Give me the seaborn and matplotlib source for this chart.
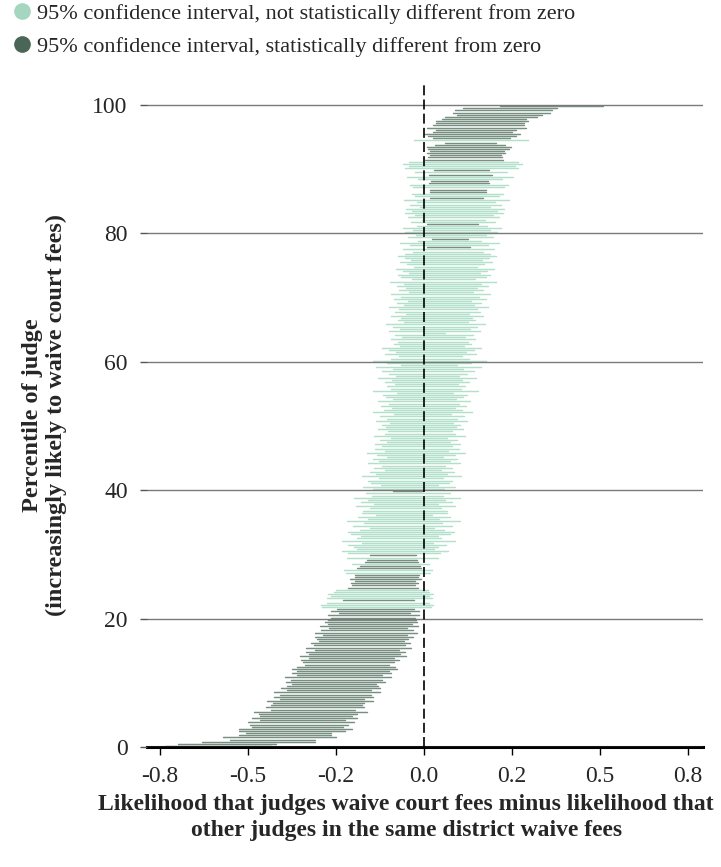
import numpy as np
import pandas as pd
import matplotlib
matplotlib.use("Agg")
import matplotlib.pyplot as plt
import seaborn as sns
from matplotlib.lines import Line2D

# ---- data: judge point estimate and half-width of 95% CI (sorted by estimate) ----
est = [
    -0.585, -0.56, -0.47, -0.43, -0.41, -0.395, -0.385, -0.375, -0.365, -0.36,
    -0.355, -0.35, -0.345, -0.34, -0.335, -0.33, -0.322, -0.316, -0.31, -0.305,
    -0.30, -0.295, -0.29, -0.285, -0.28, -0.275, -0.27, -0.265, -0.26, -0.256,
    -0.252, -0.248, -0.244, -0.24, -0.235, -0.23, -0.226, -0.222, -0.218, -0.214,
    -0.21, -0.206, -0.202, -0.198, -0.194, -0.19, -0.186, -0.183, -0.18, -0.177,
    -0.174, -0.171, -0.168, -0.165, -0.162, -0.159, -0.156, -0.153, -0.15, -0.147,
    -0.145, -0.143, -0.141, -0.139, -0.137, -0.135, -0.133, -0.131, -0.129, -0.127,
    -0.125, -0.123, -0.121, -0.119, -0.117, -0.115, -0.113, -0.111, -0.109, -0.107,
    -0.105, -0.103, -0.101, -0.099, -0.097, -0.095, -0.093, -0.091, -0.089, -0.087,
    -0.085, -0.083, -0.081, -0.079, -0.077, -0.075, -0.073, -0.071, -0.069, -0.067,
    -0.065, -0.063, -0.062, -0.061, -0.06, -0.059, -0.058, -0.057, -0.056, -0.055,
    -0.054, -0.053, -0.052, -0.051, -0.05, -0.049, -0.048, -0.047, -0.046, -0.0455,
    -0.044, -0.043, -0.041, -0.040, -0.039, -0.037, -0.036, -0.035, -0.034, -0.032,
    -0.031, -0.030, -0.028, -0.027, -0.026, -0.025, -0.023, -0.022, -0.021, -0.020,
    -0.019, -0.018, -0.016, -0.015, -0.014, -0.013, -0.012, -0.011, -0.010, -0.009,
    -0.008, -0.007, -0.007, -0.006, -0.005, -0.004, -0.004, -0.003, -0.002, -0.001,
    0.000, 0.000, 0.001, 0.002, 0.003, 0.003, 0.004, 0.005, 0.006, 0.007,
    0.008, 0.008, 0.009, 0.010, 0.011, 0.012, 0.012, 0.013, 0.014, 0.015,
    0.016, 0.017, 0.018, 0.019, 0.020, 0.021, 0.022, 0.023, 0.024, 0.025,
    0.026, 0.027, 0.028, 0.029, 0.030, 0.031, 0.032, 0.033, 0.034, 0.035,
    0.036, 0.037, 0.038, 0.039, 0.040, 0.041, 0.042, 0.043, 0.044, 0.045,
    0.046, 0.047, 0.048, 0.049, 0.050, 0.052, 0.053, 0.054, 0.055, 0.056,
    0.057, 0.058, 0.059, 0.060, 0.061, 0.062, 0.063, 0.064, 0.065, 0.066,
    0.067, 0.068, 0.069, 0.070, 0.071, 0.072, 0.073, 0.074, 0.075, 0.076,
    0.077, 0.078, 0.079, 0.080, 0.081, 0.082, 0.083, 0.084, 0.085, 0.086,
    0.087, 0.088, 0.089, 0.090, 0.091, 0.092, 0.093, 0.094, 0.095, 0.096,
    0.097, 0.098, 0.099, 0.100, 0.101, 0.102, 0.103, 0.104, 0.105, 0.106,
    0.107, 0.108, 0.110, 0.112, 0.114, 0.116, 0.118, 0.120, 0.123, 0.126,
    0.128, 0.13, 0.132, 0.134, 0.135, 0.136, 0.137, 0.138, 0.148, 0.15,
    0.155, 0.16, 0.165, 0.17, 0.19, 0.215, 0.22, 0.226, 0.244, 0.363,
]
half = [
    0.15, 0.14, 0.16, 0.12, 0.16, 0.13, 0.12, 0.15, 0.16, 0.13,
    0.14, 0.15, 0.12, 0.15, 0.13, 0.14, 0.16, 0.12, 0.14, 0.13,
    0.13, 0.15, 0.12, 0.14, 0.13, 0.15, 0.12, 0.14, 0.13, 0.12,
    0.14, 0.13, 0.15, 0.12, 0.14, 0.13, 0.15, 0.14, 0.12, 0.13,
    0.14, 0.12, 0.15, 0.13, 0.14, 0.12, 0.15, 0.13, 0.14, 0.12,
    0.13, 0.14, 0.12, 0.145, 0.13, 0.11, 0.14, 0.12, 0.13, 0.125,
    0.12, 0.13, 0.10, 0.125, 0.11, 0.155, 0.16, 0.145, 0.10, 0.15,
    0.14, 0.15, 0.135, 0.13, 0.10, 0.09, 0.095, 0.085, 0.10, 0.09,
    0.09, 0.12, 0.125, 0.09, 0.085, 0.11, 0.075, 0.07, 0.13, 0.065,
    0.13, 0.15, 0.11, 0.12, 0.14, 0.10, 0.16, 0.12, 0.11, 0.14,
    0.15, 0.12, 0.09, 0.14, 0.11, 0.16, 0.10, 0.13, 0.08, 0.12,
    0.12, 0.10, 0.14, 0.09, 0.13, 0.11, 0.15, 0.10, 0.12, 0.042,
    0.10, 0.13, 0.08, 0.11, 0.12, 0.09, 0.14, 0.10, 0.12, 0.08,
    0.11, 0.09, 0.13, 0.10, 0.12, 0.08, 0.11, 0.14, 0.09, 0.12,
    0.10, 0.12, 0.09, 0.11, 0.08, 0.13, 0.10, 0.09, 0.12, 0.10,
    0.11, 0.09, 0.13, 0.10, 0.12, 0.08, 0.14, 0.11, 0.09, 0.12,
    0.10, 0.13, 0.09, 0.11, 0.12, 0.08, 0.15, 0.10, 0.11, 0.09,
    0.12, 0.10, 0.14, 0.09, 0.11, 0.13, 0.10, 0.15, 0.08, 0.12,
    0.16, 0.11, 0.09, 0.13, 0.10, 0.12, 0.14, 0.09, 0.11, 0.10,
    0.12, 0.09, 0.11, 0.03, 0.13, 0.10, 0.12, 0.14, 0.09, 0.11,
    0.10, 0.13, 0.09, 0.12, 0.11, 0.14, 0.10, 0.12, 0.09, 0.13,
    0.11, 0.14, 0.09, 0.12, 0.10, 0.13, 0.11, 0.15, 0.09, 0.12,
    0.13, 0.10, 0.12, 0.14, 0.09, 0.11, 0.13, 0.10, 0.12, 0.14,
    0.12, 0.10, 0.13, 0.06, 0.11, 0.14, 0.09, 0.052, 0.12, 0.10,
    0.13, 0.11, 0.14, 0.10, 0.072, 0.12, 0.09, 0.13, 0.11, 0.14,
    0.12, 0.14, 0.10, 0.13, 0.11, 0.15, 0.075, 0.12, 0.13, 0.08,
    0.08, 0.13, 0.14, 0.085, 0.08, 0.12, 0.15, 0.09, 0.13, 0.078,
    0.16, 0.15, 0.17, 0.155, 0.11, 0.105, 0.10, 0.11, 0.105, 0.115,
    0.12, 0.10, 0.072, 0.163, 0.11, 0.125, 0.135, 0.112, 0.114, 0.14,
    0.13, 0.125, 0.132, 0.12, 0.13, 0.121, 0.138, 0.138, 0.134, 0.147,
]
x_ticks = [-0.75, -0.5, -0.25, 0.0, 0.25, 0.5, 0.75]
x_tick_labels = ["-0.8", "-0.5", "-0.2", "0.0", "0.2", "0.5", "0.8"]
y_ticks = [0, 20, 40, 60, 80, 100]
legend_labels = [
    "95% confidence interval, not statistically different from zero",
    "95% confidence interval, statistically different from zero",
]
x_label = ("Likelihood that judges waive court fees minus likelihood that\n"
           "other judges in the same district waive fees")
y_label = "Percentile of judge\n(increasingly likely to waive court fees)"

# ---- derived table ----
est_a = np.array(est)
half_a = np.array(half)
n = len(est_a)
pct = (np.arange(n) + 0.5) / n * 100
lo = est_a - half_a
hi = est_a + half_a
sig = (lo > 0) | (hi < 0)
df = pd.DataFrame({
    "judge": np.repeat(np.arange(n), 2),
    "x": np.column_stack([lo, hi]).ravel(),
    "pct": np.repeat(pct, 2),
    "sig": np.repeat(sig, 2),
})

sns.set_style("white")
plt.rcParams["font.family"] = ["Liberation Serif", "DejaVu Serif"]

LIGHT = "#7fcca8"
DARK = "#3e5f4c"

fig = plt.figure(figsize=(7.21, 8.67), dpi=100)
ax = fig.add_axes([0.204, 0.1384, 0.771, 0.7656])

sns.lineplot(data=df[~df["sig"]], x="x", y="pct", units="judge", estimator=None,
             color=LIGHT, alpha=0.6, lw=1.05, ax=ax, legend=False)
sns.lineplot(data=df[df["sig"]], x="x", y="pct", units="judge", estimator=None,
             color=DARK, alpha=0.7, lw=1.05, ax=ax, legend=False)

ax.set_xlim(-0.787, 0.793)
ax.set_ylim(0, 103.4)
ax.set_xticks(x_ticks)
ax.set_xticklabels(x_tick_labels)
ax.set_yticks(y_ticks)
ax.set_yticklabels([str(v) for v in y_ticks])

ax.set_axisbelow(False)
ax.grid(axis="y", color="#7a7a7a", lw=1.0)
ax.grid(axis="x", visible=False)
ax.axvline(0, color="black", lw=1.2, ls=(0, (6, 2.5)), zorder=4)

for s in ["top", "right", "left"]:
    ax.spines[s].set_visible(False)
ax.spines["bottom"].set_linewidth(2.2)
ax.spines["bottom"].set_color("black")

ax.tick_params(axis="x", bottom=True, length=6, width=1, color="black",
               pad=8, labelsize=17)
ax.tick_params(axis="y", left=True, length=5, width=1, color="#555555",
               pad=9, labelsize=17)

ax.set_xlabel(x_label, fontsize=17, fontweight="bold", linespacing=1.3)
ax.xaxis.set_label_coords(0.466, -0.0705)
ax.set_ylabel(y_label, fontsize=17.5, fontweight="bold", labelpad=18, linespacing=1.22)

handles = [
    Line2D([], [], marker="o", ls="", color="#a5d6c0", markersize=11),
    Line2D([], [], marker="o", ls="", color="#4b6656", markersize=11),
]
fig.legend(handles, legend_labels, loc="upper left", bbox_to_anchor=(-0.009, 1.014),
           frameon=False, fontsize=16, handletextpad=0.05, labelspacing=0.55,
           borderaxespad=0.3, handlelength=1.2)

fig.savefig("out.png", dpi=100)
